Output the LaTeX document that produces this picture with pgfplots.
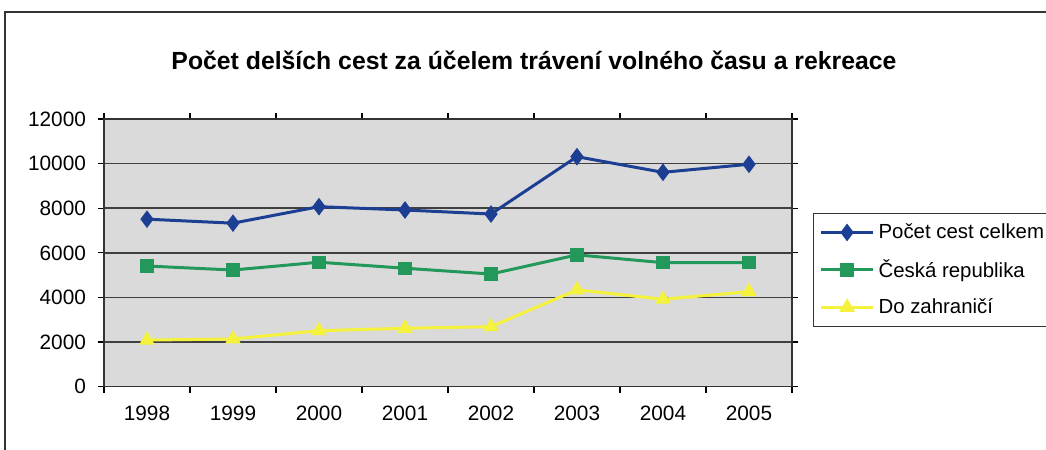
\documentclass[border=0pt]{standalone}
\usepackage{fontspec}
\setmainfont{Liberation Sans}
\usepackage{pgfplots}
\pgfplotsset{compat=1.18}
\definecolor{serblue}{HTML}{1C3F94}
\definecolor{sergreen}{HTML}{22995A}
\definecolor{seryellow}{HTML}{F4F23C}
\definecolor{plotgray}{HTML}{DADADA}

\begin{document}
\begin{tikzpicture}[x=1pt,y=1pt]
% chart area frame (only top and left visible in the scan)
\draw[line width=0.7pt, black!80] (2.5,-10) -- (2.5,219) -- (540,219);
\node[font=\bfseries\fontsize{12.4}{14}\selectfont] at (267,195)
  {Počet delších cest za účelem trávení volného času a rekreace};
\begin{axis}[
    at={(52pt,31.65pt)}, anchor=south west,
    scale only axis, width=344pt, height=133.85pt,
    xmin=-0.5, xmax=7.5, ymin=0, ymax=12000,
    ytick={0,2000,...,12000},
    scaled y ticks=false,
    yticklabel style={/pgf/number format/fixed, xshift=-2.5pt},
    xticklabel style={yshift=-3pt},
    xtick={0,...,7},
    xticklabels={1998,1999,2000,2001,2002,2003,2004,2005},
    minor xtick={-0.5,0.5,...,7.5},
    major x tick style={draw=none},
    tick align=outside,
    major tick length=3pt, minor tick length=3pt,
    tick style={black, line width=0.6pt},
    ymajorgrids,
    major grid style={draw=black!75, line width=0.8pt},
    axis line style={black!80, line width=0.7pt},
    axis background/.style={fill=plotgray},
    tick label style={font=\fontsize{10.4}{12}\selectfont},
    /pgf/number format/assume math mode=true,
    /pgf/number format/1000 sep={},
    clip=false,
    legend cell align=left,
    legend style={at={(1.0305,0.649)}, anchor=north west,
      draw=black!80, line width=0.6pt,
      font=\fontsize{10.2}{12}\selectfont,
      row sep=5pt, inner xsep=3pt, inner ysep=3pt},
    legend image code/.code={
      \draw[mark repeat=2,mark phase=2,#1]
        plot coordinates {(0pt,0pt) (13pt,0pt) (26pt,0pt)};},
  ]
\addplot[serblue, line width=1.5pt, mark=diamond*, mark size=3.2pt,
  mark options={solid, fill=serblue}] coordinates {
  (0,7510) (1,7330) (2,8070) (3,7920) (4,7740) (5,10310) (6,9610) (7,9970)};
\addlegendentry{Počet cest celkem}
\addplot[sergreen, line width=1.5pt, mark=square*, mark size=2.6pt,
  mark options={solid, fill=sergreen}] coordinates {
  (0,5410) (1,5230) (2,5580) (3,5310) (4,5050) (5,5910) (6,5560) (7,5560)};
\addlegendentry{Česká republika}
\addplot[seryellow, line width=1.5pt, mark=triangle*, mark size=3pt,
  mark options={solid, fill=seryellow}] coordinates {
  (0,2090) (1,2140) (2,2510) (3,2620) (4,2690) (5,4340) (6,3920) (7,4260)};
\addlegendentry{Do zahraničí}
\end{axis}
\pgfresetboundingbox
\useasboundingbox (0,0) rectangle (523,225);
\end{tikzpicture}
\end{document}
